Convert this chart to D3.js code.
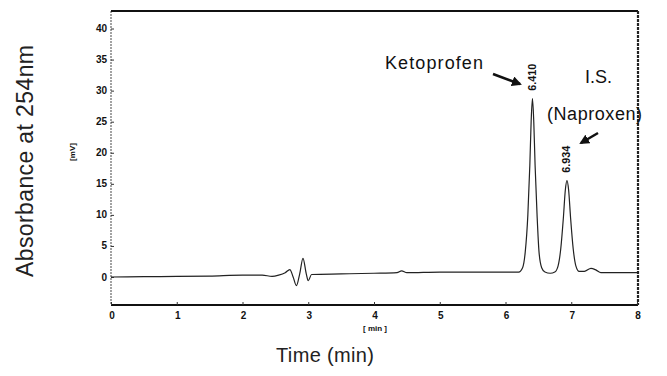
<!DOCTYPE html>
<html><head><meta charset="utf-8">
<script src="https://cdn.jsdelivr.net/npm/d3@7"></script>
<style>body{margin:0;background:#fff}svg{display:block}</style>
</head><body>
<svg id="c" width="667" height="376"></svg>
<script>
// Chromatogram trace: time (min) and signal (mV)
const times = [0,0.5,1.0,1.5,2.0,2.3,2.45,2.55,2.65,2.72,2.77,2.82,2.87,2.92,2.97,3.0,3.05,3.5,4.0,4.35,4.42,4.5,5.0,5.5,6.0,6.2,6.26,6.3,6.34,6.37,6.39,6.41,6.43,6.45,6.48,6.51,6.55,6.6,6.68,6.75,6.8,6.84,6.88,6.91,6.935,6.96,6.99,7.03,7.07,7.12,7.2,7.3,7.38,7.45,8.0];
const signal = [0,0.05,0.1,0.15,0.3,0.3,0.1,0.3,0.7,1.2,0.0,-1.4,0.5,3.0,0.5,-0.6,0.4,0.5,0.6,0.7,1.0,0.7,0.8,0.8,0.8,0.8,1.5,4,10,18,25,28.7,25,18,10,4,1.5,0.8,0.6,0.8,1.8,4.5,9.5,14,15.5,14,9.5,4.5,1.8,0.9,0.9,1.4,1.1,0.7,0.7];
const xTicks = [0,1,2,3,4,5,6,7,8];
const yTicks = [0,5,10,15,20,25,30,35,40];
const peakTimes = [6.41, 6.934];
const peakHeights = [28.7, 15.5];
const peakLabels = ["6.410", "6.934"];

const svg = d3.select("#c");
const L = 111, R = 638, T = 11, B = 305;
const x = d3.scaleLinear().domain([0, 8]).range([L, R - 1]);
const y = d3.scaleLinear().domain([0, 40]).range([277, 28.5]);
const font = "Liberation Sans, Arial, sans-serif";

// frame
svg.append("line").attr("x1", L).attr("x2", L).attr("y1", T).attr("y2", B)
  .attr("stroke", "#666").attr("stroke-width", 1.2).attr("stroke-dasharray", "2,1");
svg.append("line").attr("x1", L).attr("x2", R).attr("y1", T).attr("y2", T)
  .attr("stroke", "#111").attr("stroke-width", 2);
svg.append("line").attr("x1", R).attr("x2", R).attr("y1", T).attr("y2", B)
  .attr("stroke", "#222").attr("stroke-width", 2.2).attr("stroke-dasharray", "3,1");
svg.append("line").attr("x1", L).attr("x2", R).attr("y1", B).attr("y2", B)
  .attr("stroke", "#111").attr("stroke-width", 2);

// y axis ticks (inside)
const yAxis = d3.axisRight(y).tickValues(yTicks).tickSize(3).tickFormat("");
svg.append("g").attr("transform", `translate(${L},0)`).call(yAxis)
  .call(g => g.select(".domain").remove())
  .call(g => g.selectAll("line").attr("stroke", "#333"));
svg.append("g").selectAll("text").data(yTicks).join("text")
  .attr("x", 107).attr("y", d => y(d)).attr("dy", "0.35em")
  .attr("text-anchor", "end")
  .attr("font-family", font)
  .attr("font-weight", "bold").attr("font-size", 10).attr("fill", "#111")
  .text(d => d);

// x axis ticks (inside)
const xAxis = d3.axisTop(x).tickValues(xTicks).tickSize(3).tickFormat("");
svg.append("g").attr("transform", `translate(0,${B})`).call(xAxis)
  .call(g => g.select(".domain").remove())
  .call(g => g.selectAll("line").attr("stroke", "#333"));
svg.append("g").selectAll("text").data(xTicks).join("text")
  .attr("x", d => x(d) + 1).attr("y", 319)
  .attr("text-anchor", "middle")
  .attr("font-family", font)
  .attr("font-weight", "bold").attr("font-size", 10).attr("fill", "#111")
  .text(d => d);

// unit labels
svg.append("text").attr("x", 375).attr("y", 331).attr("text-anchor", "middle")
  .attr("font-family", font).attr("font-weight", "bold")
  .attr("font-size", 8).attr("fill", "#111").text("[ min ]");
svg.append("text").attr("transform", "translate(75,152) rotate(-90)").attr("text-anchor", "middle")
  .attr("font-family", font).attr("font-weight", "bold")
  .attr("font-size", 8).attr("fill", "#111").text("[mV]");

// trace
const pts = times.map((t, i) => [t, signal[i]]);
const line = d3.line().x(d => x(d[0])).y(d => y(d[1])).curve(d3.curveMonotoneX);
svg.append("path").datum(pts).attr("d", line)
  .attr("fill", "none").attr("stroke", "#222").attr("stroke-width", 1.2);

// peak retention labels
svg.append("g").selectAll("text").data(peakTimes).join("text")
  .attr("transform", (d, i) => `translate(${x(d) + 3.5},${y(peakHeights[i]) - 8}) rotate(-90)`)
  .attr("text-anchor", "start")
  .attr("font-family", font).attr("font-weight", "bold")
  .attr("font-size", 10).attr("fill", "#111")
  .attr("textLength", 27).attr("lengthAdjust", "spacingAndGlyphs")
  .text((d, i) => peakLabels[i]);

// annotations
svg.append("text").attr("x", 385).attr("y", 69).attr("font-family", font)
  .attr("font-size", 18).attr("fill", "#111").attr("textLength", 98).text("Ketoprofen");
svg.append("text").attr("x", 585).attr("y", 83).attr("font-family", font)
  .attr("font-size", 18).attr("fill", "#111").text("I.S.");
svg.append("text").attr("x", 547).attr("y", 120).attr("font-family", font)
  .attr("font-size", 18).attr("fill", "#111").attr("textLength", 95).text("(Naproxen)");

svg.append("defs").append("marker").attr("id", "ah").attr("viewBox", "0 0 10 10")
  .attr("refX", 8).attr("refY", 5).attr("markerWidth", 4).attr("markerHeight", 4)
  .attr("orient", "auto").append("path").attr("d", "M0,0L10,5L0,10z").attr("fill", "#111");
svg.append("line").attr("x1", 493).attr("y1", 74).attr("x2", 520).attr("y2", 84)
  .attr("stroke", "#111").attr("stroke-width", 2.5).attr("marker-end", "url(#ah)");
svg.append("line").attr("x1", 598).attr("y1", 133).attr("x2", 581).attr("y2", 143)
  .attr("stroke", "#111").attr("stroke-width", 2.5).attr("marker-end", "url(#ah)");

// axis titles
svg.append("text").attr("transform", "translate(33,161) rotate(-90)").attr("text-anchor", "middle")
  .attr("font-family", font).attr("font-size", 23).attr("fill", "#222")
  .attr("textLength", 232).text("Absorbance at 254nm");
svg.append("text").attr("x", 325).attr("y", 362).attr("text-anchor", "middle")
  .attr("font-family", font).attr("font-size", 20).attr("fill", "#222")
  .attr("textLength", 98).text("Time (min)");
</script>
</body></html>
